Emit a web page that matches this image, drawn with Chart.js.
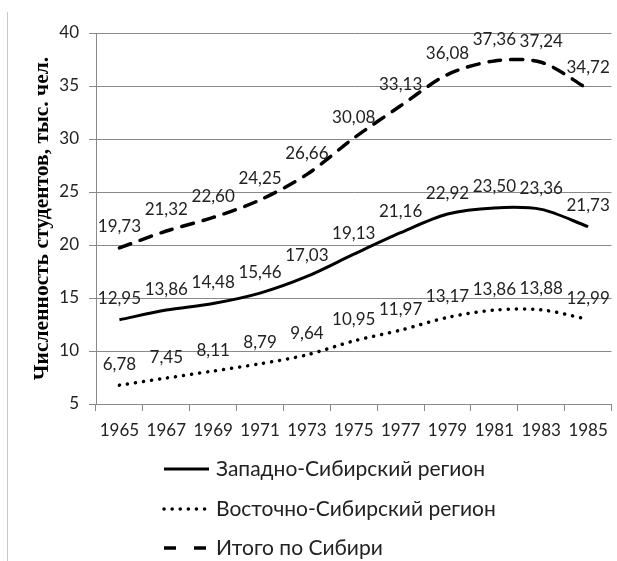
<!DOCTYPE html>
<html>
<head>
<meta charset="utf-8">
<script src="https://cdn.jsdelivr.net/npm/chart.js@4"></script>
<style>
    html, body { margin: 0; padding: 0; background: #fff; }
    #wrap { position: relative; width: 617px; height: 561px; }
    #frame { position: absolute; left: 7px; top: 12px; bottom: 0; border-left: 1px solid #c8c8c8; }
</style>
</head>
<body>
<div id="wrap">
    <div id="frame"></div>
    <canvas id="chart" width="617" height="561"></canvas>
</div>
<script>
const years = ['1965', '1967', '1969', '1971', '1973', '1975', '1977', '1979', '1981', '1983', '1985'];
const zapSib = [12.95, 13.86, 14.48, 15.46, 17.03, 19.13, 21.16, 22.92, 23.50, 23.36, 21.73];
const vostSib = [6.78, 7.45, 8.11, 8.79, 9.64, 10.95, 11.97, 13.17, 13.86, 13.88, 12.99];
const itogo = [19.73, 21.32, 22.60, 24.25, 26.66, 30.08, 33.13, 36.08, 37.36, 37.24, 34.72];
const yTicks = [5, 10, 15, 20, 25, 30, 35, 40];

const FONT = 'Lato';
const gridColor = '#898989';
const textColor = '#222';

// подписи значений над точками
const valueLabels = {
    id: 'valueLabels',
    afterDatasetsDraw(chart) {
        const c = chart.ctx;
        c.save();
        c.font = '17px ' + FONT;
        c.fillStyle = textColor;
        c.textAlign = 'center';
        c.textBaseline = 'middle';
        chart.data.datasets.forEach((ds, i) => {
            chart.getDatasetMeta(i).data.forEach((pt, j) => {
                const txt = ds.data[j].toFixed(2).replace('.', ',');
                c.fillText(txt, pt.x, pt.y - 21);
            });
        });
        c.restore();
    }
};

// легенда столбиком под графиком
const columnLegend = {
    id: 'columnLegend',
    afterDraw(chart) {
        const c = chart.ctx;
        const rows = [469, 509, 548];
        const legendDash = [[], [0.1, 8], [12, 18]];
        c.save();
        chart.data.datasets.forEach((ds, i) => {
            const y = rows[i];
            c.beginPath();
            c.strokeStyle = '#000';
            c.lineWidth = ds.borderWidth;
            c.lineCap = i === 1 ? 'round' : 'butt';
            c.setLineDash(legendDash[i]);
            c.moveTo(164, y);
            c.lineTo(i === 1 ? 208 : 209, y);
            c.stroke();
            c.setLineDash([]);
            c.font = '21px ' + FONT;
            c.fillStyle = textColor;
            c.textAlign = 'left';
            c.textBaseline = 'middle';
            c.fillText(ds.label, 216, y);
        });
        c.restore();
    }
};

window.onload = () => {
    const ctx = document.getElementById('chart').getContext('2d');
    new Chart(ctx, {
        type: 'line',
        data: {
            labels: years,
            datasets: [{
                label: 'Западно-Сибирский регион',
                data: zapSib,
                borderColor: '#000',
                borderWidth: 3,
                tension: 0.3,
                pointRadius: 0
            }, {
                label: 'Восточно-Сибирский регион',
                data: vostSib,
                borderColor: '#000',
                borderWidth: 3.5,
                borderDash: [0.1, 8],
                borderCapStyle: 'round',
                tension: 0.3,
                pointRadius: 0
            }, {
                label: 'Итого по Сибири',
                data: itogo,
                borderColor: '#000',
                borderWidth: 3.5,
                borderDash: [12, 10],
                borderCapStyle: 'round',
                tension: 0.3,
                pointRadius: 0
            }]
        },
        options: {
            responsive: false,
            animation: false,
            layout: { padding: { top: 33, right: 4, bottom: 117, left: 0 } },
            plugins: {
                legend: { display: false },
                tooltip: { enabled: false }
            },
            scales: {
                x: {
                    offset: true,
                    grid: {
                        offset: true,
                        drawOnChartArea: false,
                        color: gridColor,
                        tickLength: 7
                    },
                    border: { color: gridColor },
                    ticks: {
                        color: textColor,
                        font: { family: FONT, size: 17 },
                        padding: 9,
                        maxRotation: 0,
                        autoSkip: false
                    },
                    afterFit: s => { s.height = 40; }
                },
                y: {
                    min: 5,
                    max: 40,
                    afterBuildTicks: s => { s.ticks = yTicks.map(v => ({ value: v })); },
                    grid: { color: gridColor, tickLength: 7 },
                    border: { color: gridColor },
                    ticks: {
                        color: textColor,
                        font: { family: FONT, size: 17 },
                        padding: 10
                    },
                    title: {
                        display: true,
                        text: 'Численность студентов, тыс. чел.',
                        color: '#000',
                        font: { family: 'Liberation Serif', size: 21.5, weight: 'bold' },
                        padding: { top: 30, bottom: 0 }
                    },
                    afterFit: s => { s.width = 96; }
                }
            }
        },
        plugins: [valueLabels, columnLegend]
    });
};
</script>
</body>
</html>
